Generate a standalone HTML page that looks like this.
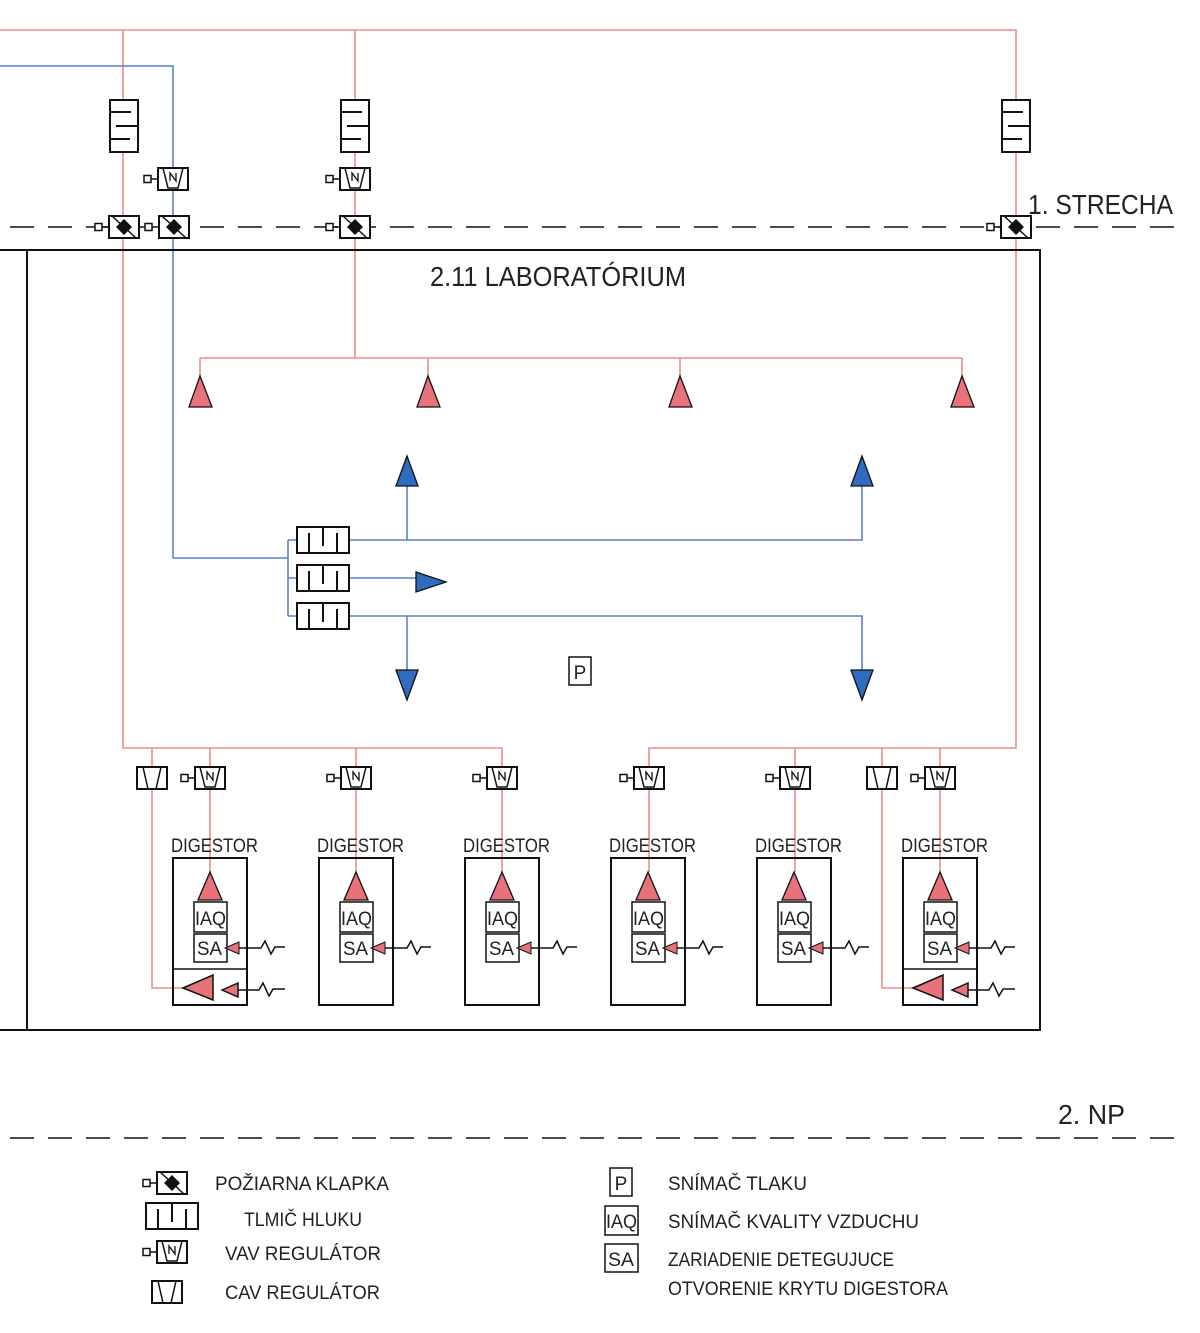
<!DOCTYPE html>
<html><head><meta charset="utf-8"><style>
html,body{margin:0;padding:0;background:#fff}
svg{display:block}
text{font-family:"Liberation Sans",sans-serif;fill:#222}
</style></head><body>
<svg width="1200" height="1333" viewBox="0 0 1200 1333" xmlns="http://www.w3.org/2000/svg">
<defs>
<g id="fd"><rect x="-15" y="-11" width="30" height="22" fill="#fff" stroke="#111" stroke-width="2"/><line x1="-12" y1="-11" x2="12" y2="11" stroke="#111" stroke-width="1.5"/><path d="M0,-8 L8,0 L0,8 L-8,0Z" fill="#111"/><line x1="-22" y1="0" x2="-15" y2="0" stroke="#111" stroke-width="1.5"/><rect x="-29" y="-3.5" width="7" height="7" fill="#fff" stroke="#111" stroke-width="1.5"/></g>
<g id="vav"><rect x="-15" y="-11" width="30" height="22" fill="#fff" stroke="#111" stroke-width="2"/><path d="M-10,-11 L-5,9 L5,9 L10,-11" fill="none" stroke="#111" stroke-width="1.5"/><path d="M-3,2 L-3,-6 L3,2 L3,-6" fill="none" stroke="#111" stroke-width="1.3"/><line x1="-22" y1="0" x2="-15" y2="0" stroke="#111" stroke-width="1.5"/><rect x="-29" y="-3.5" width="7" height="7" fill="#fff" stroke="#111" stroke-width="1.5"/></g>
<g id="cav"><rect x="-15" y="-11" width="30" height="22" fill="#fff" stroke="#111" stroke-width="2"/><path d="M-9,-11 L-4,11 M9,-11 L4,11" fill="none" stroke="#111" stroke-width="1.5"/></g>
<g id="sil"><rect x="-14" y="-26" width="28" height="52" fill="#fff" stroke="#111" stroke-width="2"/><path d="M-14,-14 L7,-14 M-8,0 L14,0 M-14,13 L6,13" stroke="#111" stroke-width="2" fill="none"/></g>
<g id="silh"><rect x="-26" y="-13" width="52" height="26" fill="#fff" stroke="#111" stroke-width="2"/><path d="M-14,-7 L-14,13 M0,-13 L0,6 M14,-7 L14,13" stroke="#111" stroke-width="2"/></g>
<g id="dig"><rect x="0" y="0" width="74" height="147" fill="none" stroke="#111" stroke-width="2"/><path d="M37,14 L25,42 L49,42Z" fill="#e8727a" stroke="#111" stroke-width="1.3"/><rect x="21" y="44" width="33" height="30" fill="#fff" stroke="#111" stroke-width="1.5"/><rect x="21" y="76" width="33" height="28" fill="#fff" stroke="#111" stroke-width="1.5"/><text x="22" y="67" font-size="19" textLength="31" lengthAdjust="spacingAndGlyphs">IAQ</text><text x="24" y="97" font-size="19" textLength="25" lengthAdjust="spacingAndGlyphs">SA</text><path d="M52,90 L66,84 L66,96Z" fill="#e8727a" stroke="#111" stroke-width="1"/><path d="M66,90 L88,90 L92,83 L98,96 L102,89 L112,89" fill="none" stroke="#111" stroke-width="1.5"/></g>
</defs>

<g stroke="#f08a8a" stroke-width="1.6" fill="none">
<path d="M0,30 L1016,30 L1016,748 L649,748 L649,872"/>
<path d="M123,30 L123,748 L502,748 L502,872"/>
<path d="M355,30 L355,358"/>
<path d="M200,358 L962,358"/>
<path d="M200,358 L200,380 M428,358 L428,380 M680,358 L680,380 M962,358 L962,380"/>
<path d="M152,748 L152,988 L185,988"/>
<path d="M882,748 L882,988 L915,988"/>
<path d="M210,748 L210,872 M356,748 L356,872 M795,748 L795,872 M940,748 L940,872"/>
</g>
<g stroke="#5b80c8" stroke-width="1.6" fill="none">
<path d="M0,66 L173,66 L173,558 L288,558"/>
<path d="M288,540 L288,616"/>
<path d="M288,540 L297,540 M288,578 L297,578 M288,616 L297,616"/>
<path d="M349,540 L862,540 L862,480"/>
<path d="M407,540 L407,480"/>
<path d="M349,578 L418,578"/>
<path d="M349,616 L862,616 L862,675"/>
<path d="M407,616 L407,675"/>
</g>
<g fill="#e8727a" stroke="#111" stroke-width="1.3">
<path d="M200,376 L189,407 L212,407Z"/><path d="M428,376 L417,407 L440,407Z"/><path d="M680,376 L669,407 L692,407Z"/><path d="M962,376 L951,407 L974,407Z"/>
</g>
<g fill="#2f6cc0" stroke="#111" stroke-width="1.3">
<path d="M407,456 L396,486 L418,486Z"/><path d="M862,456 L851,486 L873,486Z"/>
<path d="M407,700 L396,670 L418,670Z"/><path d="M862,700 L851,670 L873,670Z"/>
<path d="M446,582 L416,572 L416,592Z"/>
</g>

<line x1="10" y1="227" x2="1178" y2="227" stroke="#111" stroke-width="1.6" stroke-dasharray="24,14"/>
<line x1="10" y1="1138" x2="1178" y2="1138" stroke="#111" stroke-width="1.6" stroke-dasharray="24,14"/>
<text x="1028" y="214" font-size="28" textLength="145" lengthAdjust="spacingAndGlyphs">1. STRECHA</text>
<text x="1058" y="1124" font-size="28" textLength="67" lengthAdjust="spacingAndGlyphs">2. NP</text>

<path d="M0,250 L1040,250 L1040,1030 L0,1030 M27,250 L27,1030" fill="none" stroke="#111" stroke-width="2"/>
<text x="430" y="286" font-size="28" textLength="256" lengthAdjust="spacingAndGlyphs">2.11 LABORATÓRIUM</text>

<use href="#sil" x="124" y="126"/><use href="#sil" x="355" y="126"/><use href="#sil" x="1016" y="126"/>
<use href="#vav" x="173" y="179"/><use href="#vav" x="355" y="179"/>
<use href="#fd" x="124" y="227"/><use href="#fd" x="174" y="227"/><use href="#fd" x="355" y="227"/><use href="#fd" x="1016" y="227"/>

<use href="#silh" x="323" y="540"/><use href="#silh" x="323" y="578"/><use href="#silh" x="323" y="616"/>
<rect x="569" y="657" width="22" height="28" fill="#fff" stroke="#111" stroke-width="1.5"/>
<text x="580" y="679" font-size="19" text-anchor="middle">P</text>

<use href="#cav" x="152" y="778"/><use href="#cav" x="882" y="778"/>
<use href="#vav" x="210" y="778"/><use href="#vav" x="356" y="778"/><use href="#vav" x="502" y="778"/><use href="#vav" x="649" y="778"/><use href="#vav" x="795" y="778"/><use href="#vav" x="940" y="778"/>

<g font-size="19">
<text x="171" y="852" textLength="87" lengthAdjust="spacingAndGlyphs">DIGESTOR</text>
<text x="317" y="852" textLength="87" lengthAdjust="spacingAndGlyphs">DIGESTOR</text>
<text x="463" y="852" textLength="87" lengthAdjust="spacingAndGlyphs">DIGESTOR</text>
<text x="609" y="852" textLength="87" lengthAdjust="spacingAndGlyphs">DIGESTOR</text>
<text x="755" y="852" textLength="87" lengthAdjust="spacingAndGlyphs">DIGESTOR</text>
<text x="901" y="852" textLength="87" lengthAdjust="spacingAndGlyphs">DIGESTOR</text>
</g>
<use href="#dig" x="173" y="858"/><use href="#dig" x="319" y="858"/><use href="#dig" x="465" y="858"/><use href="#dig" x="611" y="858"/><use href="#dig" x="757" y="858"/><use href="#dig" x="903" y="858"/>
<g stroke="#111" stroke-width="1.5">
<line x1="173" y1="969" x2="247" y2="969"/><line x1="903" y1="969" x2="977" y2="969"/>
<path d="M183,988 L213,975 L213,1000Z" fill="#e8727a"/><path d="M913,988 L943,975 L943,1000Z" fill="#e8727a"/>
<path d="M222,990 L238,983 L238,997Z" fill="#e8727a"/><path d="M952,990 L968,983 L968,997Z" fill="#e8727a"/>
<path d="M238,990 L259,990 L263,983 L269,996 L273,989 L285,989" fill="none"/>
<path d="M968,990 L989,990 L993,983 L999,996 L1003,989 L1015,989" fill="none"/>
</g>

<use href="#fd" x="172" y="1183"/>
<use href="#silh" x="172" y="1216"/>
<use href="#vav" x="172" y="1252"/>
<use href="#cav" x="167" y="1292"/>
<g font-size="19">
<text x="215" y="1190" textLength="174" lengthAdjust="spacingAndGlyphs">POŽIARNA KLAPKA</text>
<text x="244" y="1226" textLength="118" lengthAdjust="spacingAndGlyphs">TLMIČ HLUKU</text>
<text x="225" y="1260" textLength="156" lengthAdjust="spacingAndGlyphs">VAV REGULÁTOR</text>
<text x="225" y="1299" textLength="155" lengthAdjust="spacingAndGlyphs">CAV REGULÁTOR</text>
<text x="668" y="1190" textLength="139" lengthAdjust="spacingAndGlyphs">SNÍMAČ TLAKU</text>
<text x="668" y="1228" textLength="251" lengthAdjust="spacingAndGlyphs">SNÍMAČ KVALITY VZDUCHU</text>
<text x="668" y="1266" textLength="226" lengthAdjust="spacingAndGlyphs">ZARIADENIE DETEGUJUCE</text>
<text x="668" y="1295" textLength="280" lengthAdjust="spacingAndGlyphs">OTVORENIE KRYTU DIGESTORA</text>
</g>
<g stroke="#111" stroke-width="1.5" fill="#fff">
<rect x="610" y="1168" width="22" height="28"/><rect x="605" y="1206" width="33" height="29"/><rect x="605" y="1244" width="33" height="28"/>
</g>
<g font-size="19">
<text x="621" y="1190" text-anchor="middle">P</text>
<text x="606" y="1228" textLength="31" lengthAdjust="spacingAndGlyphs">IAQ</text>
<text x="608" y="1266" textLength="26" lengthAdjust="spacingAndGlyphs">SA</text>
</g>
</svg>
</body></html>
